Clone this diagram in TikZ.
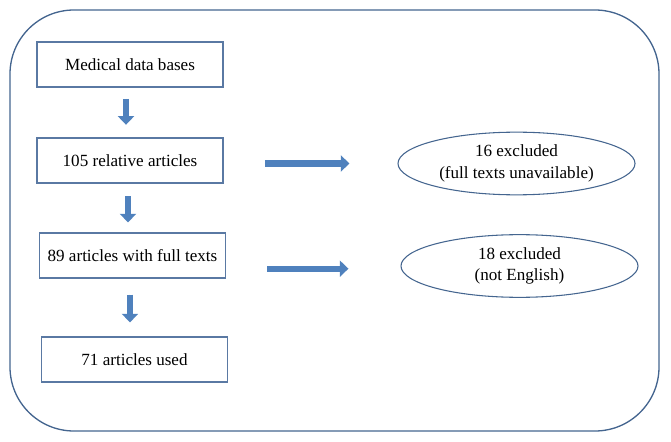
\documentclass[tikz,border=0pt]{standalone}
\usepackage{fontspec}
\setmainfont{Liberation Serif}
\usepackage{tikz}
\usetikzlibrary{arrows.meta}
\usetikzlibrary{shapes}
\usetikzlibrary{shapes.geometric}
\definecolor{arrowblue}{HTML}{4F81BD}
\definecolor{frameblue}{HTML}{44658F}
\definecolor{boxblue}{HTML}{5A79A3}
\tikzstyle{box} = [rectangle, draw=boxblue, line width=0.8pt, minimum width=139.5pt, minimum height=33.75pt, inner sep=0pt, font=\fontsize{12.8}{14.5}\selectfont]
\tikzstyle{excl} = [ellipse, draw=frameblue, line width=0.8pt, minimum width=177.75pt, minimum height=47pt, inner sep=0pt, align=center, font=\fontsize{12.8}{16}\selectfont]
\tikzstyle{flow} = [-{Triangle[length=6.5pt, width=12pt]}, draw=arrowblue, fill=arrowblue, line width=4.6pt]

\begin{document}
\begin{tikzpicture}[x=0.75pt, y=-0.75pt]
\useasboundingbox (0,0) rectangle (671,442);
\draw [frameblue, line width=1pt, rounded corners=48pt] (10,10) rectangle (659,431);
\node [box] (db) at (130, 64.5) {Medical data bases};
\node [box] (rel) at (130, 160.5) {105 relative articles};
\node [box] (full) at (132.5, 255.5) {89 articles with full texts};
\node [box] (used) at (134.5, 359.5) {71 articles used};
\node [excl] (ex1) at (516.5, 163.5) {16 excluded\\(full texts unavailable)};
\node [excl] (ex2) at (519.5, 266) {18 excluded\\(not English)};
\draw [flow, shorten <=8.5pt, shorten >=9.5pt] ([xshift=-3pt]db.south) -- ([xshift=-3pt]db.south |- rel.north);
\draw [flow, shorten <=9.5pt, shorten >=7.5pt] ([xshift=-1.5pt]rel.south) -- ([xshift=-1.5pt]rel.south |- full.north);
\draw [flow, shorten <=12pt, shorten >=10.5pt] ([xshift=-1.9pt]full.south) -- ([xshift=-1.9pt]full.south |- used.north);
\draw [flow, shorten <=31pt, shorten >=36pt] (rel.east |- ex1.west) -- (ex1.west);
\draw [flow, shorten <=31pt, shorten >=39pt] ([yshift=-2pt]full.east |- ex2.west) -- ([yshift=-2pt]ex2.west);
\end{tikzpicture}
\end{document}
